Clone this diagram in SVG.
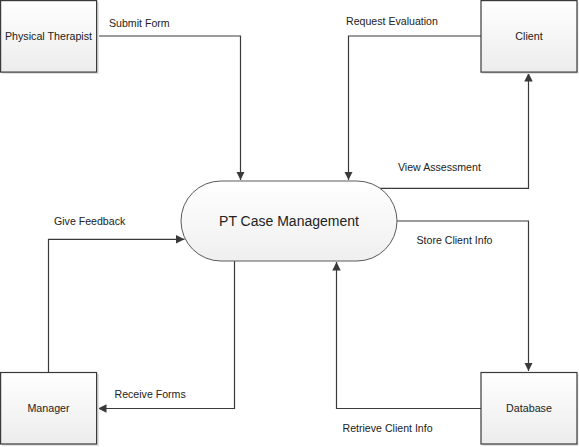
<svg xmlns="http://www.w3.org/2000/svg" width="579" height="447" viewBox="0 0 579 447">
<style>
.box{stroke:#3a3a3a;stroke-width:1.2;fill:url(#g)}
.shadow{fill:#e2e2e2}
.proc{stroke:#5a5a5a;stroke-width:1;fill:url(#g2)}
.lbl{font-family:"Liberation Sans",Arial,sans-serif;font-size:10.7px;fill:#222;text-anchor:middle}
.elbl{font-family:"Liberation Sans",Arial,sans-serif;font-size:10.6px;fill:#222}
.big{font-family:"Liberation Sans",Arial,sans-serif;font-size:14px;fill:#222;text-anchor:middle}
.conn{fill:none;stroke:#3a3a3a;stroke-width:1.2}
</style>
<defs>
<linearGradient id="g" x1="0" y1="0" x2="0" y2="1">
<stop offset="0" stop-color="#ffffff"/><stop offset="1" stop-color="#ececec"/>
</linearGradient>
<linearGradient id="g2" x1="0" y1="0" x2="0" y2="1">
<stop offset="0" stop-color="#ffffff"/><stop offset="1" stop-color="#efefef"/>
</linearGradient>
<marker id="arr" viewBox="0 0 10 10" refX="10" refY="5" markerWidth="8.5" markerHeight="8.5" markerUnits="userSpaceOnUse" orient="auto">
<path d="M0,0 L10,5 L0,10 z" fill="#3a3a3a"/>
</marker>
</defs>
<rect width="579" height="447" fill="#ffffff"/>

<g id="connectors">
<polyline class="conn" points="97,36 240.5,36 240.5,180" marker-end="url(#arr)"/>
<polyline class="conn" points="481,36 348.5,36 348.5,180" marker-end="url(#arr)"/>
<polyline class="conn" points="379,188.3 528.5,188.3 528.5,73" marker-end="url(#arr)"/>
<polyline class="conn" points="396,221 528.5,221 528.5,371" marker-end="url(#arr)"/>
<polyline class="conn" points="481,408.5 336.5,408.5 336.5,262" marker-end="url(#arr)"/>
<polyline class="conn" points="234.5,259 234.5,408.5 98,408.5" marker-end="url(#arr)"/>
<polyline class="conn" points="48.5,372 48.5,239.3 184.5,239.3" marker-end="url(#arr)"/>
<text class="elbl" x="109" y="26.5">Submit Form</text>
<text class="elbl" x="346" y="24.5">Request Evaluation</text>
<text class="elbl" x="398" y="170.5">View Assessment</text>
<text class="elbl" x="416.5" y="244">Store Client Info</text>
<text class="elbl" x="54" y="224.5">Give Feedback</text>
<text class="elbl" x="114.5" y="398">Receive Forms</text>
<text class="elbl" x="342.5" y="432">Retrieve Client Info</text>
</g>

<g id="physical-therapist">
<rect class="shadow" x="2" y="2" width="97" height="72"/>
<rect class="box" x="0.6" y="0.6" width="96" height="71.5"/>
<text class="lbl" x="48.5" y="40">Physical Therapist</text>
</g>

<g id="client">
<rect class="shadow" x="482.5" y="2" width="96" height="72"/>
<rect class="box" x="481" y="0.6" width="96" height="71.5"/>
<text class="lbl" x="529" y="40">Client</text>
</g>

<g id="manager">
<rect class="shadow" x="2" y="374" width="97" height="72"/>
<rect class="box" x="0.6" y="372.5" width="96" height="71.5"/>
<text class="lbl" x="48.5" y="412">Manager</text>
</g>

<g id="database">
<rect class="shadow" x="482.5" y="374" width="96" height="72"/>
<rect class="box" x="481" y="372.5" width="96" height="71.5"/>
<text class="lbl" x="529" y="412">Database</text>
</g>

<g id="pt-case-management">
<rect class="proc" x="181" y="181" width="216" height="80" rx="40" ry="40"/>
<text class="big" x="289" y="226">PT Case Management</text>
</g>
</svg>
